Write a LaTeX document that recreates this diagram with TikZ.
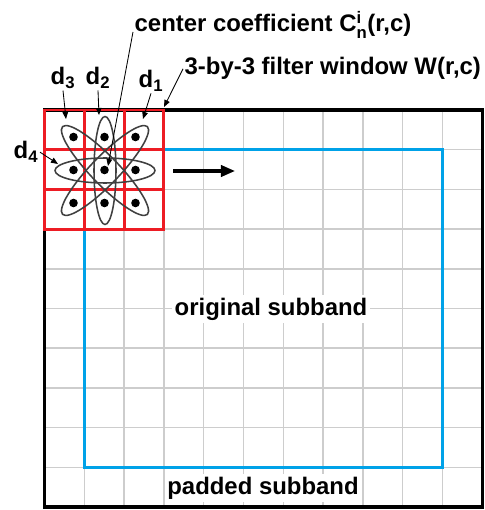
\documentclass[tikz,border=0pt]{standalone}
\usepackage{amsmath}
\usepackage{fontspec}
\setmainfont{Liberation Sans}
\usetikzlibrary{arrows.meta}
\definecolor{winred}{RGB}{237,28,36}
\definecolor{bandblue}{RGB}{0,162,232}
\definecolor{gridgray}{RGB}{205,205,205}

\begin{document}
\begin{tikzpicture}[x=0.025cm, y=-0.025cm,
    lbl/.style={font=\fontsize{17}{20}\selectfont\bfseries, inner sep=1pt},
    ptr/.style={-{Triangle[length=5pt,width=4pt]}, line width=0.6pt},
    orbit/.style={line width=1.1pt, black!75}]
    \useasboundingbox (0,0) rectangle (484,510);

    % Grid of the padded subband
    \foreach \i in {1,...,10}
        \draw[gridgray, line width=1pt] ({44.5+39.8*\i},110) -- ({44.5+39.8*\i},507);
    \foreach \j in {1,...,9}
        \draw[gridgray, line width=1pt] (44.5,{110+39.7*\j}) -- (482.5,{110+39.7*\j});

    % Original and padded subband
    \draw[bandblue, line width=2.1pt] (84.3,149.7) rectangle (442.7,467.3);
    \draw[line width=2.2pt] (44.5,110) rectangle (482.5,507);

    % Filter window
    \foreach \k in {0,...,3} {
        \draw[winred, line width=2pt, line cap=rect] ({44.5+39.8*\k},110) -- ({44.5+39.8*\k},229.1);
        \draw[winred, line width=2pt, line cap=rect] (44.5,{110+39.7*\k}) -- (163.9,{110+39.7*\k});
    }

    % Directions d1 ... d4
    \coordinate (c) at (105,170.5);
    \draw[orbit] (c) ellipse [x radius=50, y radius=12.5];
    \draw[orbit] (c) ellipse [x radius=11, y radius=54];
    \draw[orbit, rotate around={46:(c)}] (c) ellipse [x radius=61, y radius=14];
    \draw[orbit, rotate around={-46:(c)}] (c) ellipse [x radius=61, y radius=14];
    \foreach \i in {-1,0,1}
        \foreach \j in {-1,0,1}
            \fill ({104.5+31*\i},{170+33*\j}) circle[radius=4.3];

    % Labels
    \node[lbl, anchor=base west] (cc) at (133,32) {center coefficient C$^{\text{i}}_{\text{n}}$(r,c)};
    \node[lbl, anchor=base west] (win) at (183,75) {3-by-3 filter window W(r,c)};
    \node[lbl, anchor=base west] (d3) at (49,85) {d$_{\text{3}}$};
    \node[lbl, anchor=base west] (d2) at (84,85) {d$_{\text{2}}$};
    \node[lbl, anchor=base west] (d1) at (137,88) {d$_{\text{1}}$};
    \node[lbl, anchor=base west] (d4) at (12,159) {d$_{\text{4}}$};

    \coordinate (t3) at (66,119);
    \coordinate (t2) at (99,115);
    \coordinate (t1) at (143,119);
    \coordinate (t4) at (58,164);
    \coordinate (tw) at (164,107);
    \coordinate (tc) at (108,166);
    \draw[ptr] (d3.south) -- (t3);
    \draw[ptr] (d2.south) -- (t2);
    \draw[ptr] (d1.south) -- (t1);
    \draw[ptr] (d4.east) -- (t4);
    \draw[ptr] (win.west) -- (tw);
    \draw[ptr] (cc.base west) -- (tc);

    % Sliding direction
    \coordinate (m0) at (173,171);
    \coordinate (m1) at (235,171);
    \draw[line width=2.2pt, -{Triangle[length=10pt,width=8pt]}] (m0) -- (m1);

    \node[lbl, fill=white, inner sep=2pt, anchor=base] (orig) at (271,315) {original subband};
    \node[lbl, fill=white, inner sep=2pt, anchor=base] (pad) at (263,494) {padded subband};
\end{tikzpicture}
\end{document}
